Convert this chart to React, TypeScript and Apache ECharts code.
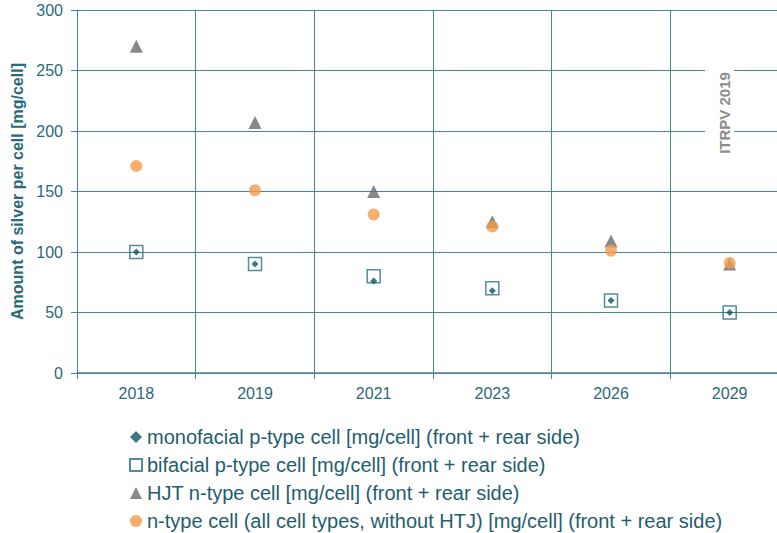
import React, { useEffect, useRef } from "react";
import * as echarts from "echarts";

const years = ["2018", "2019", "2021", "2023", "2026", "2029"];
const monofacial = [100, 90, 76, 68, 60, 50];
const bifacial = [100, 90, 80, 70, 60, 50];
const hjt = [270, 207, 150, 125, 109, 90];
const nType = [171, 151, 131, 121, 101, 91];
const yTicks = { min: 0, max: 300, interval: 50 };

const names = [
  "monofacial p-type cell [mg/cell] (front + rear side)",
  "bifacial p-type cell [mg/cell] (front + rear side)",
  "HJT n-type cell [mg/cell] (front + rear side)",
  "n-type cell (all cell types, without HTJ) [mg/cell] (front + rear side)",
];

const gridColor = "#4a8593";
const textColor = "#2b6a7a";
const font = "'Liberation Sans', Arial, sans-serif";

export default function App() {
  const ref = useRef<HTMLDivElement>(null);
  useEffect(() => {
    document.body.style.margin = "0";
    const chart = echarts.init(ref.current!, null, { renderer: "svg" });
    chart.setOption({
      animation: false,
      backgroundColor: "#ffffff",
      textStyle: { fontFamily: font },
      grid: { left: 77, top: 10, width: 712, height: 363, outerBoundsMode: "none" },
      xAxis: {
        type: "category",
        data: years,
        boundaryGap: true,
        axisLine: { lineStyle: { color: gridColor, width: 1.5 } },
        axisTick: { show: true, length: 6, interval: 0, lineStyle: { color: gridColor } },
        splitLine: { show: true, interval: 0, lineStyle: { color: gridColor, width: 1 } },
        axisLabel: { fontSize: 16, color: textColor, margin: 12, fontFamily: font },
      },
      yAxis: {
        type: "value",
        min: yTicks.min,
        max: yTicks.max,
        interval: yTicks.interval,
        name: "Amount of silver per cell [mg/cell]",
        nameLocation: "middle",
        nameGap: 49,
        nameTextStyle: { fontSize: 16, fontWeight: "bold", color: textColor, fontFamily: font },
        axisLine: { show: true, lineStyle: { color: gridColor, width: 1 } },
        axisTick: { show: true, length: 6, lineStyle: { color: gridColor } },
        splitLine: { show: true, lineStyle: { color: gridColor, width: 1 } },
        axisLabel: { fontSize: 16, color: textColor, margin: 14, fontFamily: font },
      },
      legend: {
        orient: "vertical",
        left: 124,
        top: 422,
        itemWidth: 12,
        itemHeight: 12,
        itemGap: 8,
        height: 120,
        textStyle: { fontSize: 20, lineHeight: 20, color: "#1f5e6e", fontFamily: font },
        data: [
          { name: names[0], icon: "diamond" },
          { name: names[1], icon: "rect" },
          { name: names[2], icon: "triangle" },
          { name: names[3], icon: "circle" },
        ],
      },
      graphic: [
        {
          type: "rect",
          shape: { x: 705, y: 66, width: 29, height: 92 },
          style: { fill: "#ffffff" },
          z: 10,
        },
        {
          type: "text",
          x: 724,
          y: 113,
          rotation: Math.PI / 2,
          z: 11,
          style: {
            text: "ITRPV 2019",
            align: "center",
            verticalAlign: "middle",
            fontSize: 15,
            fontWeight: "bold",
            fill: "#8c8c8c",
            fontFamily: font,
          },
        },
      ],
      series: [
        {
          name: names[1],
          type: "scatter",
          data: bifacial,
          symbol: "rect",
          symbolSize: 13,
          itemStyle: { color: "rgba(255,255,255,0)", borderColor: "#2a6f80", borderWidth: 1.5 },
        },
        {
          name: names[0],
          type: "scatter",
          data: monofacial,
          symbol: "diamond",
          symbolSize: 7,
          itemStyle: { color: "#0b5566" },
        },
        {
          name: names[2],
          type: "scatter",
          data: hjt,
          symbol: "triangle",
          symbolSize: 13,
          itemStyle: { color: "#6a6a6a" },
        },
        {
          name: names[3],
          type: "scatter",
          data: nType,
          symbol: "circle",
          symbolSize: 12,
          itemStyle: { color: "#f59b4c" },
        },
      ],
    });
    return () => chart.dispose();
  }, []);
  return (
    <div
      ref={ref}
      style={{ position: "fixed", left: 0, top: 0, width: 777, height: 533 }}
    />
  );
}
